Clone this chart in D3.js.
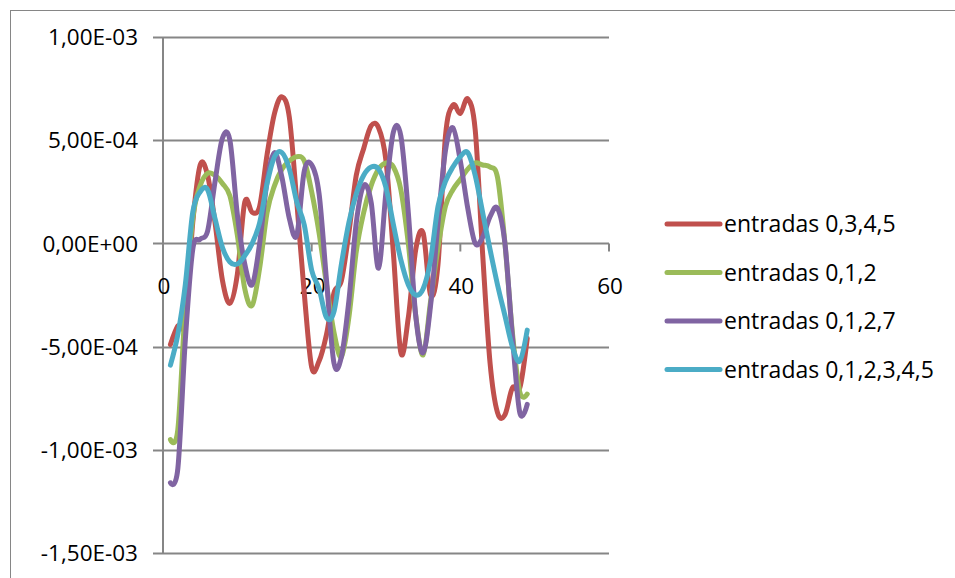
<!DOCTYPE html>
<html lang="en">
<head>
  <title>entradas</title>
  <script type="text/javascript" src="https://cdnjs.cloudflare.com/ajax/libs/d3/7.8.5/d3.min.js"></script>
  <style>
    body { margin: 0; background: #fff; }
    svg text { font-family: "Open Sans", "Noto Sans", sans-serif; fill: #000; }
  </style>
</head>
<body>
  <script type="text/javascript">
    var width = 955;
    var height = 578;

    // x goes 1..49
    var xs = d3.range(1, 50);

    var seriesNames = ["entradas 0,3,4,5", "entradas 0,1,2", "entradas 0,1,2,7", "entradas 0,1,2,3,4,5"];
    var colors = ["#C0504D", "#9BBB59", "#8064A2", "#4BACC6"];

    var red = [-4.9e-4, -4.0e-4, -3.8e-4, 1.0e-4, 3.8e-4, 3.3e-4, 1.0e-4, -1.8e-4, -2.9e-4, -1.5e-4,
      2.0e-4, 1.5e-4, 1.8e-4, 4.3e-4, 6.3e-4, 7.1e-4, 6.1e-4, 2.0e-4, -2.4e-4, -6.0e-4,
      -5.7e-4, -4.4e-4, -2.4e-4, -1.8e-4, 0.5e-4, 3.3e-4, 4.6e-4, 5.7e-4, 5.6e-4, 4.0e-4,
      -0.5e-4, -5.3e-4, -3.6e-4, -0.3e-4, 0.5e-4, -2.5e-4, -1.0e-4, 5.2e-4, 6.7e-4, 6.3e-4,
      7.0e-4, 5.5e-4, -0.5e-4, -5.8e-4, -8.2e-4, -8.3e-4, -7.0e-4, -7.0e-4, -4.6e-4];

    var green = [-9.5e-4, -9.0e-4, -3.0e-4, 1.2e-4, 2.8e-4, 3.4e-4, 3.3e-4, 2.9e-4, 2.3e-4, 0.4e-4,
      -2.2e-4, -3.0e-4, -1.2e-4, 1.5e-4, 2.8e-4, 3.6e-4, 4.0e-4, 4.2e-4, 4.0e-4, 2.5e-4,
      0.5e-4, -2.0e-4, -4.3e-4, -5.5e-4, -3.6e-4, -0.4e-4, 1.5e-4, 2.8e-4, 3.6e-4, 3.9e-4,
      3.7e-4, 2.6e-4, 0.0, -3.5e-4, -5.4e-4, -2.8e-4, -0.2e-4, 1.8e-4, 2.6e-4, 3.1e-4,
      3.6e-4, 3.9e-4, 3.8e-4, 3.7e-4, 3.2e-4, 0.0, -4.3e-4, -7.2e-4, -7.3e-4];

    var purple = [-11.6e-4, -10.9e-4, -4.7e-4, -0.3e-4, 0.2e-4, 0.6e-4, 3.0e-4, 5.1e-4, 5.0e-4, 1.4e-4,
      -1.0e-4, -2.0e-4, 0.0, 3.0e-4, 4.4e-4, 3.2e-4, 1.2e-4, 0.4e-4, 3.5e-4, 3.8e-4,
      2.4e-4, -1.8e-4, -5.8e-4, -5.5e-4, -2.8e-4, 1.0e-4, 2.8e-4, 2.0e-4, -1.2e-4, 2.5e-4,
      5.4e-4, 5.2e-4, 1.5e-4, -3.5e-4, -5.3e-4, -3.0e-4, 1.0e-4, 4.5e-4, 5.6e-4, 4.0e-4,
      1.7e-4, 0.0, 0.3e-4, 1.3e-4, 1.7e-4, 0.0, -4.5e-4, -8.2e-4, -7.8e-4];

    var cyan = [-5.9e-4, -4.4e-4, -2.0e-4, 1.5e-4, 2.5e-4, 2.6e-4, 1.2e-4, -0.2e-4, -0.9e-4, -1.0e-4,
      -0.6e-4, 0.0, 1.0e-4, 2.9e-4, 4.2e-4, 4.4e-4, 3.6e-4, 2.0e-4, 0.9e-4, -1.3e-4,
      -2.2e-4, -3.6e-4, -3.3e-4, -1.0e-4, 1.0e-4, 2.4e-4, 3.3e-4, 3.7e-4, 3.6e-4, 2.7e-4,
      0.9e-4, -0.8e-4, -2.0e-4, -2.5e-4, -2.2e-4, -0.8e-4, 1.8e-4, 3.0e-4, 3.7e-4, 4.2e-4,
      4.4e-4, 3.3e-4, 1.5e-4, -0.3e-4, -2.0e-4, -3.5e-4, -5.0e-4, -5.7e-4, -4.2e-4];

    var yTicks = [-1.5e-3, -1e-3, -5e-4, 0, 5e-4, 1e-3];
    var yTickLabels = ["-1,50E-03", "-1,00E-03", "-5,00E-04", "0,00E+00", "5,00E-04", "1,00E-03"];
    var xTicks = [0, 20, 40, 60];

    var allSeries = [red, green, purple, cyan];

    var plot = {left: 163, right: 609, top: 37, bottom: 553};
    var gridColor = "#868686";

    var x = d3.scaleLinear().domain([0, 60]).range([plot.left, plot.right]);
    var y = d3.scaleLinear().domain([-1.5e-3, 1e-3]).range([plot.bottom, plot.top]);

    var svg = d3.select("body").append("svg")
      .attr("width", width)
      .attr("height", height);

    // chart frame
    svg.append("rect")
      .attr("x", 10.5).attr("y", 10.5)
      .attr("width", width).attr("height", height)
      .attr("fill", "none").attr("stroke", gridColor).attr("stroke-width", 1);

    // horizontal gridlines (they stick out left as tick marks)
    svg.append("g").selectAll("line")
      .data(yTicks)
      .enter().append("line")
      .attr("x1", plot.left - 10).attr("x2", plot.right)
      .attr("y1", function (d) { return Math.round(y(d)) + 0.5; })
      .attr("y2", function (d) { return Math.round(y(d)) + 0.5; })
      .attr("stroke", gridColor).attr("stroke-width", 2);

    // y axis line
    svg.append("line")
      .attr("x1", plot.left).attr("x2", plot.left)
      .attr("y1", plot.top).attr("y2", plot.bottom + 1)
      .attr("stroke", gridColor).attr("stroke-width", 2);

    svg.append("g").selectAll("text")
      .data(yTicks)
      .enter().append("text")
      .attr("x", 138)
      .attr("y", function (d) { return y(d); })
      .attr("dy", "0.36em")
      .attr("text-anchor", "end")
      .attr("font-size", 22.5)
      .text(function (d, i) { return yTickLabels[i]; });

    // x axis sits on the zero line, ticks point down
    var xAxisY = Math.round(y(0)) + 0.5;
    svg.append("g").selectAll("line")
      .data(xTicks)
      .enter().append("line")
      .attr("x1", function (d) { return x(d); })
      .attr("x2", function (d) { return x(d); })
      .attr("y1", xAxisY).attr("y2", xAxisY + 8)
      .attr("stroke", gridColor).attr("stroke-width", 2);

    svg.append("g").selectAll("text")
      .data(xTicks)
      .enter().append("text")
      .attr("x", function (d) { return x(d) + 1; })
      .attr("y", xAxisY + 50)
      .attr("text-anchor", "middle")
      .attr("font-size", 22.5)
      .text(function (d) { return d; });

    var line = d3.line()
      .x(function (d, i) { return x(xs[i]); })
      .y(function (d) { return y(d); })
      .curve(d3.curveCatmullRom.alpha(0));

    svg.append("g").selectAll("path")
      .data(allSeries)
      .enter().append("path")
      .attr("d", line)
      .attr("fill", "none")
      .attr("stroke", function (d, i) { return colors[i]; })
      .attr("stroke-width", 5)
      .attr("stroke-linecap", "round")
      .attr("stroke-linejoin", "round");

    // legend
    var legend = svg.append("g").selectAll("g")
      .data(seriesNames)
      .enter().append("g")
      .attr("transform", function (d, i) { return "translate(667," + (224 + i * 48.5) + ")"; });

    legend.append("line")
      .attr("x1", 0).attr("x2", 53)
      .attr("stroke", function (d, i) { return colors[i]; })
      .attr("stroke-width", 5)
      .attr("stroke-linecap", "round");

    legend.append("text")
      .attr("x", 57)
      .attr("dy", "0.36em")
      .attr("font-size", 23)
      .text(function (d) { return d; });
  </script>
</body>
</html>
